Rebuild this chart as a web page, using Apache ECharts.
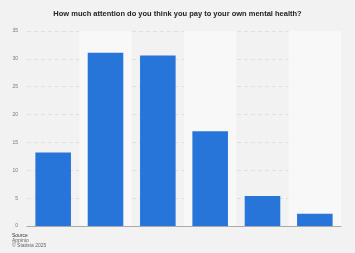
<!DOCTYPE html>
<html><head><meta charset="utf-8">
<script src="https://cdn.jsdelivr.net/npm/echarts@6/dist/echarts.min.js"></script>
<style>html,body{margin:0;padding:0;background:#f2f2f2;}#c{width:355px;height:253px;}</style>
</head><body><div id="c"></div>
<script>
const categories = ['A lot', 'Quite a lot', 'Some', 'A little', 'Very little', 'None'];
const values = [13.2, 31.1, 30.6, 17.0, 5.4, 2.2];
const yTicks = [0, 5, 10, 15, 20, 25, 30, 35];
const chart = echarts.init(document.getElementById('c'));
chart.setOption({
  backgroundColor: '#f2f2f2',
  animation: false,
  title: {
    text: 'How much attention do you think you pay to your own mental health?',
    left: 'center', top: 5,
    textStyle: { fontFamily: 'Liberation Sans', fontSize: 7.5, fontWeight: 'bold', color: '#222' }
  },
  graphic: [
    { type: 'text', left: 12, top: 233, style: { text: 'Source', font: '5px Liberation Sans', fill: '#333' } },
    { type: 'text', left: 12, top: 238, style: { text: 'Appinio', font: '5px Liberation Sans', fill: '#666' } },
    { type: 'text', left: 12, top: 243, style: { text: '© Statista 2025', font: '5px Liberation Sans', fill: '#666' } }
  ],
  grid: { left: 27, right: 14, top: 31, bottom: 27 },
  xAxis: {
    type: 'category', data: categories,
    axisLine: { lineStyle: { color: '#aaa', width: 1 } },
    axisTick: { show: false, interval: 0 }, axisLabel: { show: false, interval: 0 },
    splitArea: { show: true, interval: 0, areaStyle: { color: ['rgba(0,0,0,0)', '#f8f8f8'] } }
  },
  yAxis: {
    type: 'value', min: 0, max: yTicks[yTicks.length - 1], interval: 5,
    axisLine: { show: false }, axisTick: { show: false },
    axisLabel: { fontSize: 5, color: '#777', fontFamily: 'Liberation Sans', margin: 9 },
    splitLine: { lineStyle: { color: '#d9d9d9', type: [4, 3], width: 0.8 } }
  },
  series: [{
    type: 'bar', data: values, barWidth: '68%',
    itemStyle: { color: '#2875d9' }
  }]
});
</script></body></html>
